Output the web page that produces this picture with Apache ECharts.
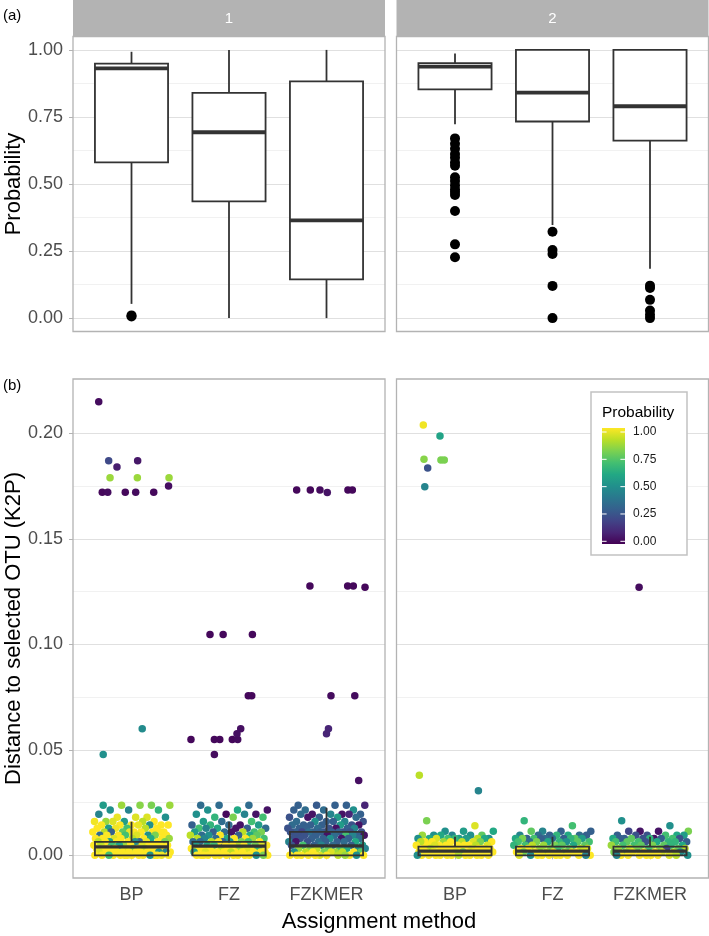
<!DOCTYPE html>
<html><head><meta charset="utf-8">
<script src="https://cdn.jsdelivr.net/npm/echarts@6/dist/echarts.min.js"></script>
<style>html,body{margin:0;padding:0;background:#fff}#c{width:709px;height:936px}</style>
</head><body><div id="c"></div>
<script>
// ---------------- DATA ----------------
const CATS = ['BP', 'FZ', 'FZKMER'];
const FACETS = ['1', '2'];
const PROB_TICKS = [0, 0.25, 0.5, 0.75, 1];
const DIST_TICKS = [0, 0.05, 0.1, 0.15, 0.2];
const LEGEND_TICKS = [1.0, 0.75, 0.5, 0.25, 0.0];

// (a) boxplot stats: [lowerWhisker, Q1, median, Q3, upperWhisker]
const probBoxF1 = [
  [0.053, 0.581, 0.931, 0.949, 0.993],
  [0.000, 0.435, 0.693, 0.840, 1.000],
  [0.000, 0.144, 0.364, 0.883, 1.000]
];
const probBoxF2 = [
  [0.723, 0.853, 0.938, 0.951, 0.987],
  [0.347, 0.733, 0.841, 1.000, 1.000],
  [0.184, 0.662, 0.790, 1.000, 1.000]
];
const probOutF1BP = [0.010, 0.006];
const probOutF2BP = [0.670, 0.650, 0.631, 0.612, 0.598, 0.580, 0.568, 0.525, 0.511, 0.495, 0.480, 0.470, 0.459, 0.399, 0.275, 0.227];
const probOutF2FZ = [0.322, 0.254, 0.239, 0.120, 0.000];
const probOutF2FZKMER = [0.121, 0.112, 0.068, 0.028, 0.012, 0.000];

// (b) boxplot stats for distance
const distBoxF1 = [
  [0, 0, 0.0040, 0.0064, 0.0159],
  [0, 0, 0.0044, 0.0064, 0.0159],
  [0, 0, 0.0045, 0.0111, 0.0225]
];
const distBoxF2 = [
  [0, 0, 0.0020, 0.0041, 0.0088],
  [0, 0, 0.0020, 0.0041, 0.0088],
  [0, 0, 0.0020, 0.0041, 0.0088]
];

// (b) isolated points: [jitter, distance, probability]
const hiF1BP = [[-0.336,0.215,0.03],[-0.30,0.1721,0.02],[-0.244,0.1721,0.03],[-0.234,0.187,0.22],[-0.22,0.179,0.85],[-0.149,0.184,0.08],[-0.064,0.1721,0.02],[0.043,0.1721,0.03],[0.063,0.187,0.06],[0.06,0.179,0.85],[0.228,0.1721,0.02],[0.38,0.175,0.04],[0.385,0.179,0.85],[-0.29,0.0478,0.5],[0.11,0.060,0.48]];
const hiF1FZ = [[-0.39,0.0549,0.02],[-0.195,0.1046,0.02],[-0.06,0.1046,0.02],[0.24,0.1046,0.02],[-0.15,0.0549,0.02],[-0.095,0.0549,0.02],[-0.15,0.0478,0.03],[0.034,0.0549,0.02],[0.089,0.0549,0.03],[0.082,0.0576,0.04],[0.12,0.060,0.04],[0.198,0.0756,0.02],[0.233,0.0756,0.02]];
const hiF1FZKMER = [[-0.306,0.1732,0.02],[-0.166,0.1732,0.02],[-0.067,0.1732,0.03],[0.008,0.172,0.05],[0.22,0.1732,0.02],[0.265,0.1732,0.02],[-0.17,0.1277,0.02],[0.217,0.1277,0.02],[0.275,0.1277,0.02],[0.395,0.127,0.02],[0.046,0.0756,0.03],[0.29,0.0756,0.03],[0.0,0.0576,0.1],[0.02,0.060,0.1],[0.33,0.0355,0.04]];
const hiF2BP = [[-0.325,0.2039,0.98],[-0.154,0.1987,0.58],[-0.318,0.1877,0.82],[-0.28,0.1836,0.25],[-0.144,0.1874,0.8],[-0.11,0.1874,0.8],[-0.31,0.1747,0.45],[-0.366,0.0379,0.9],[0.24,0.0306,0.45]];
const hiF2FZ = [];
const hiF2FZKMER = [[-0.112,0.1271,0.03]];

// (b) dense low-distance points: [distance, [probabilities...]]
const rowsF1BP = [
  [0.0237,[0.55,0.8,0.85,0.85,0.82]],
  [0.0215,[0.5,0.65,0.45]],
  [0.0195,[0.45]],
  [0.0180,[0.95,0.97,0.5,0.95]],
  [0.0160,[0.85,1,0.55,0.98,0.9,0.95]],
  [0.0144,[1,1,1,0.5,1,1,0.97]],
  [0.0128,[0.55,1,0.7,1,0.9,0.98]],
  [0.0111,[1,1,0.9,1,0.75,1,1,0.3,1,0.97]],
  [0.0095,[0.35,0.5,1,1,0.95,1,0.8,0.7]],
  [0.0080,[1,1,0.95,1,0.9,1,0.6,1,0.85]],
  [0.0064,[0.3,0.55,1,1,0.9,0.97,1,0.8,0.5,1]],
  [0.0048,[1,0.85,1,0.95,0.7,1,1,0.9,1,0.6,1]],
  [0.0032,[1,1,1,0.95,1,0.9,1,1,0.8,1,1]],
  [0.0016,[1,1,1,1,0.5,1,0.95,1,1,0.45,1,1]],
  [0.0000,[1,1,1,1,1,0.98,1,1,0.5,1,1,1,0.7,1,1]]
];
const rowsF1FZ = [
  [0.0237,[0.35,0.35,0.35]],
  [0.0215,[0.05,0.6,0.5]],
  [0.0195,[0.05,0.02,0.5,0.45]],
  [0.0180,[0.65,0.7,0.8]],
  [0.0160,[0.55,0.7,0.35]],
  [0.0144,[0.3,0.05,0.65,0.55,0.35]],
  [0.0128,[0.7,0.3,0.6,0.35,0.05,0.45]],
  [0.0111,[0.7,0.35,0.55,0.9,0.3,0.8,0.05]],
  [0.0095,[0.35,0.6,1,0.9,0.3,0.5,0.75]],
  [0.0080,[0.6,0.9,1,0.35,0.7,1,0.45,0.85]],
  [0.0064,[0.3,0.35,0.8,0.9,1,0.5,0.35,0.7,1]],
  [0.0048,[1,0.9,0.6,0.8,1,0.55,1,0.7,0.95,1]],
  [0.0032,[1,1,0.9,1,0.85,1,0.65,1,1,0.95]],
  [0.0016,[1,1,1,0.95,1,1,0.55,1,1,1,0.9]],
  [0.0000,[1,1,1,1,1,1,0.5,1,1,1,1,0.8,1,1]]
];
const rowsF1FZKMER = [
  [0.0237,[0.3,0.3,0.28,0.1,0.3]],
  [0.0215,[0.35,0.5,0.35,0.3]],
  [0.0195,[0.05,0.05,0.3,0.45,0.35,0.1]],
  [0.0180,[0.3,0.25,0.55,0.05,0.35]],
  [0.0160,[0.3,0.35,0.45,0.5,0.25,0.3]],
  [0.0144,[0.3,0.25,0.3,0.35,0.55,0.3,0.05]],
  [0.0128,[0.25,0.3,0.3,0.35,0.25,0.05,0.3,0.45]],
  [0.0111,[0.25,0.3,0.25,0.3,0.25,0.3,0.2,0.25,0.3,0.25,0.3,0.35]],
  [0.0095,[0.3,0.05,0.25,0.7,0.3,0.05,0.35,0.25,0.45]],
  [0.0080,[0.3,0.25,0.05,0.3,0.35,0.5,0.25,0.3]],
  [0.0064,[0.35,0.45,0.3,0.25,0.6,0.3,0.05,0.35]],
  [0.0048,[0.3,0.55,0.35,0.7,0.3,0.45,0.25]],
  [0.0032,[0.7,0.8,0.5,0.75,0.85,0.6,0.9,0.45]],
  [0.0016,[0.85,0.9,1,0.8,0.5,0.9,1,0.75,0.95]],
  [0.0000,[1,1,0.95,1,0.9,1,0.5,1,1,0.85,1,1]]
];
const rowsF2BP = [
  [0.0164,[0.8]],
  [0.0140,[0.95]],
  [0.0114,[0.5,0.6,0.55]],
  [0.0095,[0.5,0.75,0.45,0.85,0.5,0.6]],
  [0.0080,[0.5,0.55,0.6,0.9,0.7,0.5,0.55,0.95,0.6,0.65]],
  [0.0064,[1,0.95,0.85,1,0.9,1,0.8,1,0.9]],
  [0.0048,[1,1,0.95,1,1,0.9,1,1,1,0.95]],
  [0.0032,[1,1,1,0.95,1,1,1,0.9,1,1]],
  [0.0016,[1,1,1,1,0.95,1,1,1,1,0.8,1]],
  [0.0000,[1,1,1,1,1,1,0.9,1,1,1,0.5,1,1]]
];
const rowsF2FZ = [
  [0.0164,[0.65]],
  [0.0140,[0.7]],
  [0.0114,[0.45,0.3,0.3,0.75]],
  [0.0095,[0.35,0.3,0.45,0.6,0.35,0.3,0.65]],
  [0.0080,[0.3,0.75,0.35,0.6,0.3,0.7,0.55,0.35,0.8,0.65,0.3]],
  [0.0064,[0.7,0.65,0.35,0.75,0.6,0.7,0.5,0.8]],
  [0.0048,[0.75,0.8,0.7,0.6,0.85,0.65,0.75,0.9]],
  [0.0032,[0.9,0.8,1,0.75,0.85,0.95,0.7,1]],
  [0.0016,[1,0.9,1,0.85,1,0.95,1,0.8,1]],
  [0.0000,[1,1,1,0.5,1,1,0.95,1,1,0.45,1]]
];
const rowsF2FZKMER = [
  [0.0164,[0.5]],
  [0.0140,[0.5]],
  [0.0114,[0.05,0.8,0.05,0.2]],
  [0.0095,[0.6,0.25,0.3,0.7,0.25,0.55]],
  [0.0080,[0.05,0.3,0.7,0.25,0.6,0.3,0.75,0.25,0.65,0.3]],
  [0.0064,[0.65,0.7,0.3,0.6,0.75,0.65,0.25,0.7]],
  [0.0048,[0.75,0.7,0.6,0.8,0.7,0.65,0.75,0.85]],
  [0.0032,[0.8,0.9,0.75,0.7,0.85,0.2,0.8,0.9]],
  [0.0016,[1,0.85,0.9,1,0.8,0.95,1,0.5]],
  [0.0000,[1,1,0.95,1,0.5,1,1,0.9,1,0.45]]
];

// ---------------- LAYOUT / STYLE ----------------
const VIRIDIS = ['#440154','#482576','#414487','#35608D','#2A788E','#21908C','#22A884','#43BF71','#7AD151','#BBDF27','#FDE725'];
const FONT = 'Liberation Sans, Arial, Helvetica, sans-serif';
const P1X = 73, P2X = 396.5, PW = 312;
const A_TOP = 36.5, A_BOT = 331.5, B_TOP = 379, B_BOT = 878;
const aUnit = (A_BOT - A_TOP) / 1.1;
const aY1 = A_TOP + 0.05 * aUnit, aY0 = A_BOT - 0.05 * aUnit;
const bLo = -0.01075, bHi = 0.22575;
const bUnit = (B_BOT - B_TOP) / (bHi - bLo);
const bY0 = B_BOT + bLo * bUnit, bY2 = bY0 - 0.2 * bUnit;

function jit(k) { return ((k * 0.6180339887 + 0.137) % 1) * 0.8 - 0.4; }
function buildPoints(rows, hi, cat) {
  const out = []; let k = 0;
  rows.forEach(r => r[1].forEach(p => { out.push([cat + jit(k++), r[0], p]); }));
  hi.forEach(h => out.push([cat + h[0], h[1], h[2]]));
  return out;
}
const ptsF1 = [].concat(buildPoints(rowsF1BP, hiF1BP, 1), buildPoints(rowsF1FZ, hiF1FZ, 2), buildPoints(rowsF1FZKMER, hiF1FZKMER, 3));
const ptsF2 = [].concat(buildPoints(rowsF2BP, hiF2BP, 1), buildPoints(rowsF2FZ, hiF2FZ, 2), buildPoints(rowsF2FZKMER, hiF2FZKMER, 3));
const outF1 = probOutF1BP.map(v => [1, v]);
const outF2 = [].concat(probOutF2BP.map(v => [1, v]), probOutF2FZ.map(v => [2, v]), probOutF2FZKMER.map(v => [3, v]));

function boxItem(fill, lw, mw) {
  return function (params, api) {
    const c = api.value(0), hw = 0.375;
    const xl = api.coord([c - hw, 0])[0], xr = api.coord([c + hw, 0])[0], xc = api.coord([c, 0])[0];
    const yLo = api.coord([c, api.value(1)])[1];
    const yQ1 = api.coord([c, api.value(2)])[1];
    const yMd = api.coord([c, api.value(3)])[1];
    const yQ3 = api.coord([c, api.value(4)])[1];
    const yHi = api.coord([c, api.value(5)])[1];
    return { type: 'group', children: [
      { type: 'line', shape: { x1: xc, y1: yHi, x2: xc, y2: yQ3 }, style: { stroke: '#333333', lineWidth: lw } },
      { type: 'line', shape: { x1: xc, y1: yQ1, x2: xc, y2: yLo }, style: { stroke: '#333333', lineWidth: lw } },
      { type: 'rect', shape: { x: xl, y: yQ3, width: xr - xl, height: yQ1 - yQ3 }, style: { fill: fill, stroke: '#333333', lineWidth: lw } },
      { type: 'line', shape: { x1: xl, y1: yMd, x2: xr, y2: yMd }, style: { stroke: '#333333', lineWidth: mw } }
    ] };
  };
}
const boxData = arr => arr.map((b, i) => [i + 1].concat(b));

function yAxisCfg(gi, min, max, interval, showLabels) {
  return {
    type: 'value', gridIndex: gi, min: min, max: max, interval: interval,
    axisLine: { show: false },
    axisTick: { show: showLabels, length: 4, lineStyle: { color: '#b3b3b3', width: 1 } },
    axisLabel: { show: showLabels, fontSize: 18, color: '#4d4d4d', margin: 10, fontFamily: FONT, formatter: v => v.toFixed(2) },
    splitLine: { show: true, lineStyle: { color: '#e0e0e0', width: 1 } },
    minorTick: { show: false, splitNumber: 2 },
    minorSplitLine: { show: true, lineStyle: { color: '#eeeeee', width: 0.8 } }
  };
}
function xAxisCfg(gi, showLabels, offset) {
  return {
    type: 'value', gridIndex: gi, min: 0.4, max: 3.6, offset: offset,
    axisLine: { show: false }, splitLine: { show: false },
    axisTick: { show: showLabels, length: 4, customValues: [1, 2, 3], lineStyle: { color: '#b3b3b3', width: 1 } },
    axisLabel: { show: showLabels, customValues: [1, 2, 3], fontSize: 18, color: '#4d4d4d', margin: 8, fontFamily: FONT,
      formatter: v => CATS[Math.round(v) - 1] || '' }
  };
}

const graphics = [];
[P1X, P2X].forEach((x, i) => {
  graphics.push({ type: 'rect', z: 100, shape: { x: x, y: 0, width: PW, height: A_TOP }, style: { fill: '#b3b3b3' } });
  graphics.push({ type: 'text', z: 101, x: x + PW / 2, y: A_TOP / 2 + 1, style: { text: FACETS[i], fill: '#ffffff', font: '15px ' + FONT, textAlign: 'center', textVerticalAlign: 'middle', align: 'center', verticalAlign: 'middle' } });
  graphics.push({ type: 'rect', z: 100, shape: { x: x, y: A_TOP, width: PW, height: A_BOT - A_TOP }, style: { fill: 'none', stroke: '#b3b3b3', lineWidth: 1.3 } });
  graphics.push({ type: 'rect', z: 100, shape: { x: x, y: B_TOP, width: PW, height: B_BOT - B_TOP }, style: { fill: 'none', stroke: '#b3b3b3', lineWidth: 1.3 } });
});
function txt(t, x, y, size, color, opts) {
  return Object.assign({ type: 'text', z: 101, x: x, y: y, style: { text: t, fill: color, font: size + 'px ' + FONT,
    textAlign: opts.align, textVerticalAlign: 'middle', align: opts.align, verticalAlign: 'middle' } }, opts.rot ? { rotation: opts.rot } : {});
}
graphics.push(txt('(a)', 3, 16, 15, '#000', { align: 'left' }));
graphics.push(txt('(b)', 3, 386, 15, '#000', { align: 'left' }));
graphics.push(txt('Probability', 14, (A_TOP + A_BOT) / 2, 22, '#000', { align: 'center', rot: Math.PI / 2 }));
graphics.push(txt('Distance to selected OTU (K2P)', 14, (B_TOP + B_BOT) / 2, 22, '#000', { align: 'center', rot: Math.PI / 2 }));
graphics.push(txt('Assignment method', 379, 922, 22, '#000', { align: 'center' }));

// colour-bar legend
const LG = { x: 591, y: 392, w: 96, h: 163, barX: 602, barY: 428, barW: 23, barH: 116, v1: 432, v0: 541.3 };
graphics.push({ type: 'rect', z: 110, shape: { x: LG.x, y: LG.y, width: LG.w, height: LG.h }, style: { fill: '#ffffff', stroke: '#c2c2c2', lineWidth: 1.5 } });
graphics.push(Object.assign(txt('Probability', 602, 413, 15.5, '#000', { align: 'left' }), { z: 111 }));
graphics.push({ type: 'rect', z: 111, shape: { x: LG.barX, y: LG.barY, width: LG.barW, height: LG.barH },
  style: { fill: new echarts.graphic.LinearGradient(0, 0, 0, 1, VIRIDIS.slice().reverse().map((c, i) => ({ offset: i / (VIRIDIS.length - 1), color: c }))) } });
LEGEND_TICKS.forEach(v => {
  const y = LG.v0 - v * (LG.v0 - LG.v1);
  graphics.push({ type: 'line', z: 112, shape: { x1: LG.barX, y1: y, x2: LG.barX + 4.6, y2: y }, style: { stroke: '#ffffff', lineWidth: 1 } });
  graphics.push({ type: 'line', z: 112, shape: { x1: LG.barX + LG.barW - 4.6, y1: y, x2: LG.barX + LG.barW, y2: y }, style: { stroke: '#ffffff', lineWidth: 1 } });
  graphics.push(Object.assign(txt(v.toFixed(2), 633, y, 12, '#1a1a1a', { align: 'left' }), { z: 112 }));
});

const chart = echarts.init(document.getElementById('c'), null, { renderer: 'canvas' });
chart.setOption({
  animation: false,
  backgroundColor: '#ffffff',
  textStyle: { fontFamily: FONT },
  grid: [
    { left: P1X, top: aY1, width: PW, height: aY0 - aY1, outerBoundsMode: 'none' },
    { left: P2X, top: aY1, width: PW, height: aY0 - aY1, outerBoundsMode: 'none' },
    { left: P1X, top: bY2, width: PW, height: bY0 - bY2, outerBoundsMode: 'none' },
    { left: P2X, top: bY2, width: PW, height: bY0 - bY2, outerBoundsMode: 'none' }
  ],
  xAxis: [xAxisCfg(0, false, 0), xAxisCfg(1, false, 0), xAxisCfg(2, true, B_BOT - bY0), xAxisCfg(3, true, B_BOT - bY0)],
  yAxis: [
    yAxisCfg(0, PROB_TICKS[0], PROB_TICKS[4], 0.25, true),
    yAxisCfg(1, PROB_TICKS[0], PROB_TICKS[4], 0.25, false),
    yAxisCfg(2, DIST_TICKS[0], DIST_TICKS[4], 0.05, true),
    yAxisCfg(3, DIST_TICKS[0], DIST_TICKS[4], 0.05, false)
  ],
  visualMap: { show: false, type: 'continuous', min: 0, max: 1, dimension: 2, seriesIndex: [4, 5], inRange: { color: VIRIDIS } },
  series: [
    { type: 'custom', xAxisIndex: 0, yAxisIndex: 0, renderItem: boxItem('#ffffff', 1.8, 3.8), data: boxData(probBoxF1), encode: { x: 0, y: [1, 2, 3, 4, 5] }, z: 2 },
    { type: 'custom', xAxisIndex: 1, yAxisIndex: 1, renderItem: boxItem('#ffffff', 1.8, 3.8), data: boxData(probBoxF2), encode: { x: 0, y: [1, 2, 3, 4, 5] }, z: 2 },
    { type: 'scatter', xAxisIndex: 0, yAxisIndex: 0, data: outF1, symbolSize: 10, itemStyle: { color: '#000000', opacity: 1 }, clip: false, z: 3 },
    { type: 'scatter', xAxisIndex: 1, yAxisIndex: 1, data: outF2, symbolSize: 10, itemStyle: { color: '#000000', opacity: 1 }, clip: false, z: 3 },
    { type: 'scatter', xAxisIndex: 2, yAxisIndex: 2, data: ptsF1, symbolSize: 7.5, itemStyle: { opacity: 1 }, clip: false, z: 2 },
    { type: 'scatter', xAxisIndex: 3, yAxisIndex: 3, data: ptsF2, symbolSize: 7.5, itemStyle: { opacity: 1 }, clip: false, z: 2 },
    { type: 'custom', xAxisIndex: 2, yAxisIndex: 2, renderItem: boxItem('rgba(0,0,0,0)', 1.8, 3.2), data: boxData(distBoxF1), encode: { x: 0, y: [1, 2, 3, 4, 5] }, z: 4 },
    { type: 'custom', xAxisIndex: 3, yAxisIndex: 3, renderItem: boxItem('rgba(0,0,0,0)', 1.8, 3.2), data: boxData(distBoxF2), encode: { x: 0, y: [1, 2, 3, 4, 5] }, z: 4 }
  ],
  graphic: { elements: graphics }
});
</script></body></html>
